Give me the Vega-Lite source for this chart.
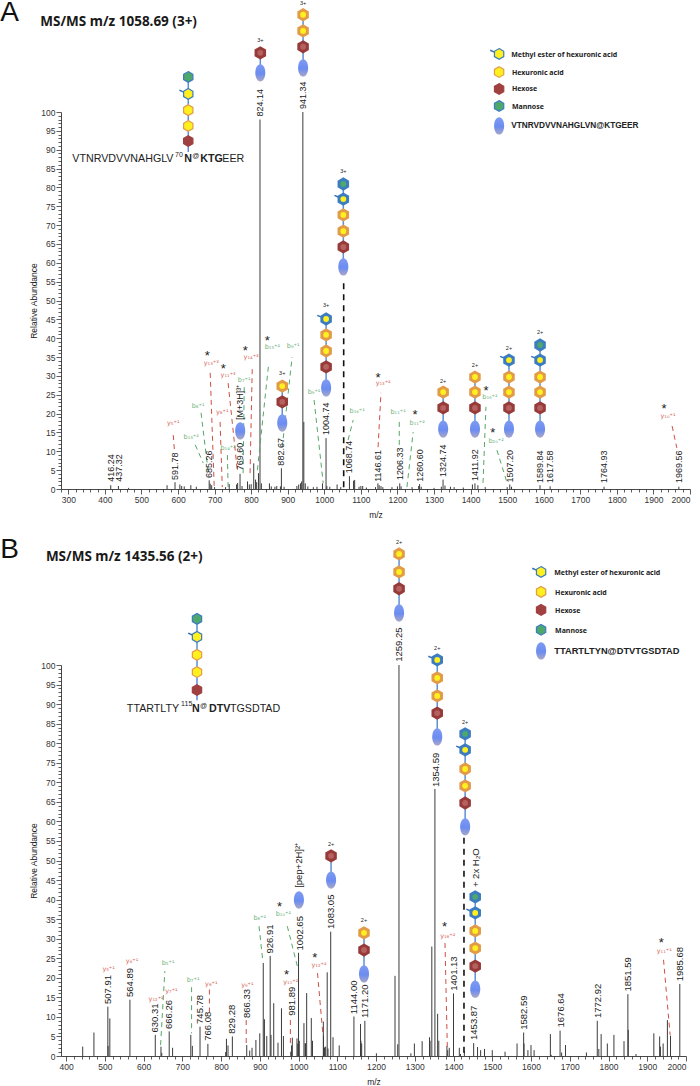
{"$schema":"https://vega.github.io/schema/vega-lite/v6.json","background":"white","padding":{"left":0,"top":-2,"right":0,"bottom":0},"bounds":"flush","spacing":176,"config":{"view":{"stroke":null},"axis":{"grid":false,"labelFont":"Liberation Sans","titleFont":"Liberation Sans","titleFontWeight":"normal","titleFontSize":8.5,"labelFontSize":8.5,"labelColor":"#333","titleColor":"#222","domainColor":"#333","tickColor":"#333","labelOverlap":false,"labelPadding":1,"tickWidth":0.8,"domainWidth":0.9}},"datasets":{"peaks_a":[{"mz":416,"ab":1},{"mz":437,"ab":0.8},{"mz":465,"ab":0.3},{"mz":570,"ab":1},{"mz":591.78,"ab":1.8},{"mz":605,"ab":1.2},{"mz":610,"ab":0.8},{"mz":617,"ab":0.7},{"mz":635,"ab":1},{"mz":650,"ab":0.6},{"mz":685.26,"ab":2.3},{"mz":688,"ab":1.4},{"mz":692,"ab":1},{"mz":700,"ab":0.5},{"mz":730,"ab":0.5},{"mz":740,"ab":1.3},{"mz":760,"ab":1.2},{"mz":763,"ab":1.6},{"mz":769.6,"ab":4},{"mz":775,"ab":0.8},{"mz":790,"ab":2},{"mz":795,"ab":1.2},{"mz":800,"ab":1.3},{"mz":807,"ab":6.8},{"mz":812,"ab":2.5},{"mz":815,"ab":1.8},{"mz":820,"ab":4.2},{"mz":824.14,"ab":98},{"mz":828,"ab":1.5},{"mz":850,"ab":1.5},{"mz":855,"ab":0.7},{"mz":865,"ab":0.6},{"mz":870,"ab":0.8},{"mz":880,"ab":0.7},{"mz":882.67,"ab":5.5},{"mz":890,"ab":0.6},{"mz":925,"ab":0.8},{"mz":930,"ab":1.2},{"mz":935,"ab":1.5},{"mz":938,"ab":2},{"mz":941.34,"ab":100},{"mz":944,"ab":17.8},{"mz":948,"ab":1.5},{"mz":955,"ab":0.7},{"mz":970,"ab":0.5},{"mz":980,"ab":0.6},{"mz":995,"ab":1.5},{"mz":1004.74,"ab":13.5},{"mz":1007,"ab":0.8},{"mz":1015,"ab":0.6},{"mz":1035,"ab":1.2},{"mz":1045,"ab":0.5},{"mz":1068.74,"ab":3.4},{"mz":1080,"ab":2.2},{"mz":1083,"ab":2.4},{"mz":1095,"ab":0.6},{"mz":1100,"ab":0.8},{"mz":1105,"ab":0.8},{"mz":1115,"ab":0.4},{"mz":1140,"ab":0.5},{"mz":1146.61,"ab":1.5},{"mz":1150,"ab":1},{"mz":1155,"ab":0.8},{"mz":1160,"ab":0.5},{"mz":1185,"ab":0.5},{"mz":1200,"ab":0.7},{"mz":1206.33,"ab":1.5},{"mz":1210,"ab":0.7},{"mz":1240,"ab":0.5},{"mz":1258,"ab":0.8},{"mz":1260.6,"ab":1.3},{"mz":1265,"ab":0.6},{"mz":1300,"ab":0.3},{"mz":1320,"ab":0.6},{"mz":1324.74,"ab":2.5},{"mz":1330,"ab":0.9},{"mz":1345,"ab":0.6},{"mz":1355,"ab":0.5},{"mz":1380,"ab":0.4},{"mz":1405,"ab":1.2},{"mz":1411.92,"ab":1.5},{"mz":1420,"ab":1},{"mz":1440,"ab":0.5},{"mz":1500,"ab":0.5},{"mz":1507.2,"ab":1.2},{"mz":1512,"ab":0.6},{"mz":1589.84,"ab":1},{"mz":1617.58,"ab":0.7},{"mz":1764.93,"ab":0.6},{"mz":1969.56,"ab":0.6}],"peaks_b":[{"mz":443,"ab":2.4},{"mz":472,"ab":6},{"mz":507.91,"ab":12.6},{"mz":508.5,"ab":2.6},{"mz":513,"ab":9.6},{"mz":564.89,"ab":14.4},{"mz":630.31,"ab":5.4},{"mz":645,"ab":2.4},{"mz":647,"ab":0.8},{"mz":666.26,"ab":6.3},{"mz":675,"ab":2.1},{"mz":722,"ab":5.4},{"mz":726,"ab":2.6},{"mz":745.78,"ab":7.5},{"mz":766.08,"ab":3.1},{"mz":812,"ab":1},{"mz":814,"ab":4.4},{"mz":818,"ab":2.7},{"mz":829.28,"ab":5},{"mz":866.33,"ab":2.8},{"mz":874,"ab":1.4},{"mz":880,"ab":2.1},{"mz":890,"ab":4.1},{"mz":900,"ab":5.8},{"mz":909,"ab":23.8},{"mz":912,"ab":9.4},{"mz":918,"ab":5.1},{"mz":926.91,"ab":25.6},{"mz":929,"ab":5.4},{"mz":936,"ab":13.5},{"mz":947,"ab":3.4},{"mz":956,"ab":12.2},{"mz":961,"ab":5.1},{"mz":980,"ab":1.1},{"mz":982,"ab":2.7},{"mz":984,"ab":4.7},{"mz":996,"ab":4.5},{"mz":998,"ab":3.2},{"mz":1000,"ab":26.4},{"mz":1002,"ab":3.9},{"mz":1014,"ab":8.4},{"mz":1017,"ab":3.3},{"mz":1018,"ab":3.2},{"mz":1021,"ab":16.1},{"mz":1033,"ab":9.7},{"mz":1036,"ab":3.9},{"mz":1064,"ab":8.8},{"mz":1064.5,"ab":5.2},{"mz":1067,"ab":2.2},{"mz":1070,"ab":2.4},{"mz":1074,"ab":21.4},{"mz":1076,"ab":1.9},{"mz":1083.05,"ab":31.8},{"mz":1089,"ab":4.8},{"mz":1105,"ab":2.7},{"mz":1143,"ab":10.1},{"mz":1160,"ab":8.2},{"mz":1161,"ab":3.9},{"mz":1163,"ab":3.2},{"mz":1171.2,"ab":9},{"mz":1201,"ab":0.7},{"mz":1249,"ab":20.5},{"mz":1256,"ab":3},{"mz":1259.25,"ab":100},{"mz":1290,"ab":0.7},{"mz":1299,"ab":3.2},{"mz":1319,"ab":3.8},{"mz":1338,"ab":4.8},{"mz":1339.5,"ab":3.9},{"mz":1344,"ab":28},{"mz":1352,"ab":68.3},{"mz":1359,"ab":10.8},{"mz":1362,"ab":3.9},{"mz":1383,"ab":2.6},{"mz":1385,"ab":1.5},{"mz":1389,"ab":2.1},{"mz":1400,"ab":16},{"mz":1415,"ab":2.1},{"mz":1418,"ab":0.5},{"mz":1428,"ab":1.2},{"mz":1452,"ab":3.3},{"mz":1462,"ab":2.3},{"mz":1470,"ab":1.5},{"mz":1480,"ab":1.8},{"mz":1500,"ab":1.5},{"mz":1533,"ab":1.1},{"mz":1564,"ab":3.2},{"mz":1581,"ab":6},{"mz":1582,"ab":3.2},{"mz":1592,"ab":1.5},{"mz":1600,"ab":2.8},{"mz":1608,"ab":1.5},{"mz":1650,"ab":5.6},{"mz":1652,"ab":0.3},{"mz":1675,"ab":6.5},{"mz":1679,"ab":0.9},{"mz":1689,"ab":2.8},{"mz":1743,"ab":0.9},{"mz":1771,"ab":9},{"mz":1775,"ab":1.8},{"mz":1781,"ab":5.6},{"mz":1797,"ab":3.2},{"mz":1814,"ab":5.4},{"mz":1840,"ab":3.8},{"mz":1850,"ab":15.8},{"mz":1851,"ab":6.7},{"mz":1871,"ab":0.5},{"mz":1917,"ab":5.8},{"mz":1932,"ab":5},{"mz":1934,"ab":2.4},{"mz":1941,"ab":3.2},{"mz":1952,"ab":9.2},{"mz":1960,"ab":5.2},{"mz":1984,"ab":18.4}],"labels_a":[{"mz":416.24,"ab":1.9,"t":"416.24"},{"mz":437.32,"ab":1.9,"t":"437.32"},{"mz":591.78,"ab":2.4,"t":"591.78"},{"mz":685.26,"ab":2.9,"t":"685.26"},{"mz":769.6,"ab":5,"t":"769.60"},{"mz":882.67,"ab":6.2,"t":"882.67"},{"mz":941.34,"ab":100.8,"t":"941.34"},{"mz":824.14,"ab":98.8,"t":"824.14"},{"mz":1004.74,"ab":14.3,"t":"1004.74"},{"mz":1068.74,"ab":4.2,"t":"1068.74"},{"mz":1146.61,"ab":1.9,"t":"1146.61"},{"mz":1206.33,"ab":2.4,"t":"1206.33"},{"mz":1260.6,"ab":1.9,"t":"1260.60"},{"mz":1324.74,"ab":3.2,"t":"1324.74"},{"mz":1411.92,"ab":2.1,"t":"1411.92"},{"mz":1507.2,"ab":1.7,"t":"1507.20"},{"mz":1589.84,"ab":1.6,"t":"1589.84"},{"mz":1617.58,"ab":1.6,"t":"1617.58"},{"mz":1764.93,"ab":1.6,"t":"1764.93"},{"mz":1969.56,"ab":1.6,"t":"1969.56"},{"mz":770,"ab":18.3,"t":"[M+3H]³⁺"}],"labels_b":[{"mz":507.91,"ab":13.3,"t":"507.91"},{"mz":564.89,"ab":15.1,"t":"564.89"},{"mz":630.31,"ab":6,"t":"630.31"},{"mz":666.26,"ab":6.9,"t":"666.26"},{"mz":745.78,"ab":8.2,"t":"745.78"},{"mz":766.08,"ab":3.9,"t":"766.08"},{"mz":829.28,"ab":5.7,"t":"829.28"},{"mz":866.33,"ab":9.7,"t":"866.33"},{"mz":926.91,"ab":26.2,"t":"926.91"},{"mz":981.89,"ab":10.3,"t":"981.89"},{"mz":1002.65,"ab":27,"t":"1002.65"},{"mz":1083.05,"ab":32.5,"t":"1083.05"},{"mz":1144,"ab":10.7,"t":"1144.00"},{"mz":1171.2,"ab":9.7,"t":"1171.20"},{"mz":1259.25,"ab":100.8,"t":"1259.25"},{"mz":1354.59,"ab":68.8,"t":"1354.59"},{"mz":1401.13,"ab":16.7,"t":"1401.13"},{"mz":1453.87,"ab":4.1,"t":"1453.87"},{"mz":1582.59,"ab":6.7,"t":"1582.59"},{"mz":1676.64,"ab":7.3,"t":"1676.64"},{"mz":1772.92,"ab":9.7,"t":"1772.92"},{"mz":1851.59,"ab":16.5,"t":"1851.59"},{"mz":1985.68,"ab":19.1,"t":"1985.68"},{"mz":1001,"ab":43,"t":"[pep+2H]²⁺"},{"mz":1458,"ab":43.2,"t":"+ 2x H₂O"}],"frag_a":[{"id":"a1","ion":"y","mz":587,"ab":14.3},{"id":"a1","ion":"y","mz":590,"ab":10.3},{"id":"a2","ion":"y","mz":688,"ab":30.8},{"id":"a2","ion":"y","mz":699,"ab":0.5},{"id":"a3","ion":"y","mz":737,"ab":28.1},{"id":"a3","ion":"y","mz":762,"ab":5},{"id":"a4","ion":"y","mz":715,"ab":17.8},{"id":"a4","ion":"y","mz":721,"ab":0.5},{"id":"a5","ion":"y","mz":803,"ab":32.1},{"id":"a5","ion":"y","mz":797,"ab":4.2},{"id":"a6","ion":"b","mz":663,"ab":20.2},{"id":"a6","ion":"b","mz":683,"ab":4.2},{"id":"a7","ion":"b","mz":647,"ab":11.7},{"id":"a7","ion":"b","mz":669,"ab":6.9},{"id":"a8","ion":"b","mz":735,"ab":9},{"id":"a8","ion":"b","mz":737,"ab":0.5},{"id":"a9","ion":"b","mz":781,"ab":27.1},{"id":"a9","ion":"b","mz":778,"ab":4.2},{"id":"a10","ion":"b","mz":847,"ab":32.4},{"id":"a10","ion":"b","mz":817,"ab":5},{"id":"a11","ion":"b","mz":912,"ab":35},{"id":"a11","ion":"b","mz":885,"ab":11.1},{"id":"a12","ion":"b","mz":972,"ab":23.6},{"id":"a12","ion":"b","mz":997,"ab":1.6},{"id":"a13","ion":"b","mz":1079,"ab":18.3},{"id":"a13","ion":"b","mz":1065,"ab":13},{"id":"a14","ion":"y","mz":1155,"ab":25.5},{"id":"a14","ion":"y","mz":1147,"ab":11.1},{"id":"a15","ion":"b","mz":1205,"ab":17.8},{"id":"a15","ion":"b","mz":1205,"ab":11.1},{"id":"a16","ion":"b","mz":1243,"ab":15.1},{"id":"a16","ion":"b","mz":1226,"ab":0.5},{"id":"a17","ion":"b","mz":1442,"ab":21.8},{"id":"a17","ion":"b","mz":1434,"ab":1.6},{"id":"a18","ion":"b","mz":1472,"ab":10.3},{"id":"a18","ion":"b","mz":1500,"ab":1.6},{"id":"a19","ion":"y","mz":1951,"ab":16.7},{"id":"a19","ion":"y","mz":1964,"ab":10.9}],"frag_b":[{"id":"b1","ion":"y","mz":770,"ab":17},{"id":"b1","ion":"y","mz":770,"ab":10.1},{"id":"b2","ion":"y","mz":865,"ab":9.2},{"id":"b2","ion":"y","mz":865,"ab":3.3},{"id":"b3","ion":"y","mz":979,"ab":9.2},{"id":"b3","ion":"y","mz":979,"ab":3.3},{"id":"b4","ion":"y","mz":1049,"ab":21.2},{"id":"b4","ion":"y","mz":1063,"ab":5.4},{"id":"b5","ion":"b","mz":655,"ab":21.7},{"id":"b5","ion":"b","mz":644,"ab":2.8},{"id":"b6","ion":"b","mz":724,"ab":17.6},{"id":"b6","ion":"b","mz":724,"ab":5.8},{"id":"b7","ion":"b","mz":898,"ab":33.2},{"id":"b7","ion":"b","mz":908,"ab":24.2},{"id":"b8","ion":"b","mz":971,"ab":33.2},{"id":"b8","ion":"b","mz":999.5,"ab":22},{"id":"b9","ion":"y","mz":1378,"ab":28.9},{"id":"b9","ion":"y","mz":1384,"ab":2.4},{"id":"b10","ion":"y","mz":1942,"ab":24.6},{"id":"b10","ion":"y","mz":1959,"ab":5.4}],"fraglabels_a":[{"ion":"y","mz":587,"ab":17.5,"t":"y₅⁺¹"},{"ion":"y","mz":691,"ab":33.4,"t":"y₁₃⁺³"},{"ion":"y","mz":737,"ab":30.2,"t":"y₁₁⁺³"},{"ion":"y","mz":721,"ab":20.4,"t":"y₈⁺¹"},{"ion":"y","mz":800,"ab":35,"t":"y₁₄⁺³"},{"ion":"b","mz":655,"ab":22,"t":"b₈⁺¹"},{"ion":"b","mz":636,"ab":13.8,"t":"b₁₃⁺²"},{"ion":"b","mz":737,"ab":10.9,"t":"b₁₄⁺²"},{"ion":"b","mz":781,"ab":28.9,"t":"b₇⁺¹"},{"ion":"b","mz":858,"ab":37.7,"t":"b₁₅⁺²"},{"ion":"b","mz":915,"ab":37.9,"t":"b₉⁺¹"},{"ion":"b","mz":972,"ab":25.7,"t":"b₉⁺¹"},{"ion":"b","mz":1090,"ab":20.7,"t":"b₁₆⁺¹"},{"ion":"y","mz":1161,"ab":28.1,"t":"y₁₃⁺²"},{"ion":"b","mz":1202,"ab":20.4,"t":"b₁₁⁺¹"},{"ion":"b","mz":1254,"ab":17.5,"t":"b₁₁⁺²"},{"ion":"b","mz":1453,"ab":24.4,"t":"b₁₉⁺²"},{"ion":"b","mz":1470,"ab":12.7,"t":"b₂₀⁺²"},{"ion":"y","mz":1940,"ab":19.4,"t":"y₁₀⁺¹"}],"fraglabels_b":[{"ion":"y","mz":510,"ab":22.3,"t":"y₅⁺¹"},{"ion":"y","mz":570.5,"ab":24.4,"t":"y₆⁺¹"},{"ion":"y","mz":632.5,"ab":14.6,"t":"y₁₂⁺²"},{"ion":"y","mz":672,"ab":16.5,"t":"y₇⁺¹"},{"ion":"y","mz":775,"ab":18.5,"t":"y₈⁺¹"},{"ion":"y","mz":868,"ab":18.2,"t":"y₉⁺¹"},{"ion":"y","mz":980,"ab":18.9,"t":"y₁₁⁺²"},{"ion":"y","mz":1053,"ab":23.4,"t":"y₁₂⁺²"},{"ion":"y","mz":1385,"ab":30.8,"t":"y₁₈⁺²"},{"ion":"y","mz":1944,"ab":26.8,"t":"y₁₁⁺¹"},{"ion":"b","mz":663.5,"ab":23.8,"t":"b₅⁺¹"},{"ion":"b","mz":728,"ab":19.5,"t":"b₇⁺¹"},{"ion":"b","mz":900,"ab":35.4,"t":"b₈⁺²"},{"ion":"b","mz":961,"ab":36.2,"t":"b₁₀⁺²"}],"stars_a":[{"mz":680,"ab":35.8,"t":"*"},{"mz":724,"ab":32.4,"t":"*"},{"mz":784,"ab":37.1,"t":"*"},{"mz":844,"ab":39.8,"t":"*"},{"mz":1147,"ab":30,"t":"*"},{"mz":1248,"ab":20.2,"t":"*"},{"mz":1442,"ab":26.5,"t":"*"},{"mz":1461,"ab":15.4,"t":"*"},{"mz":1929,"ab":21.8,"t":"*"}],"stars_b":[{"mz":969,"ab":21.1,"t":"*"},{"mz":1042,"ab":25.7,"t":"*"},{"mz":951,"ab":38.5,"t":"*"},{"mz":1377,"ab":33.6,"t":"*"},{"mz":1936,"ab":29.4,"t":"*"}],"charges_a":[{"mz":825,"ab":119.1,"t":"3+"},{"mz":942,"ab":128.9,"t":"3+"},{"mz":1052,"ab":84.4,"t":"3+"},{"mz":1005,"ab":48.8,"t":"3+"},{"mz":885,"ab":30.8,"t":"3+"},{"mz":1325,"ab":28.7,"t":"2+"},{"mz":1412,"ab":32.9,"t":"2+"},{"mz":1505,"ab":37.4,"t":"2+"},{"mz":1590,"ab":41.7,"t":"2+"}],"charges_b":[{"mz":1259.5,"ab":131.5,"t":"2+"},{"mz":1358,"ab":104.4,"t":"2+"},{"mz":1430,"ab":85.4,"t":"2+"},{"mz":1084,"ab":54.2,"t":"2+"},{"mz":1169,"ab":34.8,"t":"2+"}],"glyco_a":[{"c":"a0","style":"small","kind":"mannose","mz":628,"ab":109.3},{"c":"a0","style":"small","kind":"methyl","mz":628,"ab":104.8},{"c":"a0","style":"small","kind":"hexuronic","mz":628,"ab":100.5},{"c":"a0","style":"small","kind":"hexuronic","mz":628,"ab":96.3},{"c":"a0","style":"small","kind":"hexose","mz":628,"ab":92.3},{"c":"a0","style":"small","kind":"stub","mz":628,"ab":89.4},{"c":"a1","style":"big","kind":"hexose","mz":825,"ab":115.7},{"c":"a1","style":"big","kind":"peptide","mz":825,"ab":110.4},{"c":"a2","style":"big","kind":"hexuronic","mz":942,"ab":125.8},{"c":"a2","style":"big","kind":"hexuronic","mz":942,"ab":121.5},{"c":"a2","style":"big","kind":"hexose","mz":942,"ab":117.3},{"c":"a2","style":"big","kind":"peptide","mz":942,"ab":111.7},{"c":"a3","style":"big","kind":"mannose","mz":1052,"ab":80.9},{"c":"a3","style":"big","kind":"methyl","mz":1052,"ab":76.9},{"c":"a3","style":"big","kind":"hexuronic","mz":1052,"ab":72.7},{"c":"a3","style":"big","kind":"hexuronic","mz":1052,"ab":68.4},{"c":"a3","style":"big","kind":"hexose","mz":1052,"ab":64.2},{"c":"a3","style":"big","kind":"peptide","mz":1052,"ab":58.9},{"c":"a4","style":"big","kind":"methyl","mz":1005,"ab":45.1},{"c":"a4","style":"big","kind":"hexuronic","mz":1005,"ab":40.9},{"c":"a4","style":"big","kind":"hexuronic","mz":1005,"ab":36.6},{"c":"a4","style":"big","kind":"hexose","mz":1005,"ab":32.4},{"c":"a4","style":"big","kind":"peptide","mz":1005,"ab":26.8},{"c":"a5","style":"big","kind":"hexuronic","mz":885,"ab":27.3},{"c":"a5","style":"big","kind":"hexose","mz":885,"ab":23.1},{"c":"a5","style":"big","kind":"peptide","mz":885,"ab":17.5},{"c":"a6","style":"big","kind":"peptide","mz":770,"ab":15.4},{"c":"a7","style":"big","kind":"hexuronic","mz":1325,"ab":25.7},{"c":"a7","style":"big","kind":"hexose","mz":1325,"ab":21.5},{"c":"a7","style":"big","kind":"peptide","mz":1325,"ab":15.9},{"c":"a8","style":"big","kind":"hexuronic","mz":1412,"ab":29.7},{"c":"a8","style":"big","kind":"hexuronic","mz":1412,"ab":25.7},{"c":"a8","style":"big","kind":"hexose","mz":1412,"ab":21.5},{"c":"a8","style":"big","kind":"peptide","mz":1412,"ab":15.9},{"c":"a9","style":"big","kind":"methyl","mz":1505,"ab":34.2},{"c":"a9","style":"big","kind":"hexuronic","mz":1505,"ab":29.7},{"c":"a9","style":"big","kind":"hexuronic","mz":1505,"ab":25.7},{"c":"a9","style":"big","kind":"hexose","mz":1505,"ab":21.5},{"c":"a9","style":"big","kind":"peptide","mz":1505,"ab":15.9},{"c":"a10","style":"big","kind":"mannose","mz":1590,"ab":38.2},{"c":"a10","style":"big","kind":"methyl","mz":1590,"ab":34.2},{"c":"a10","style":"big","kind":"hexuronic","mz":1590,"ab":29.7},{"c":"a10","style":"big","kind":"hexuronic","mz":1590,"ab":25.7},{"c":"a10","style":"big","kind":"hexose","mz":1590,"ab":21.5},{"c":"a10","style":"big","kind":"peptide","mz":1590,"ab":15.9},{"c":"l1","style":"legend","kind":"methyl","mz":1478,"ab":115.4},{"c":"l2","style":"legend","kind":"hexuronic","mz":1478,"ab":110.6},{"c":"l3","style":"legend","kind":"hexose","mz":1478,"ab":106.1},{"c":"l4","style":"legend","kind":"mannose","mz":1478,"ab":101.6},{"c":"l5","style":"legend","kind":"peptide","mz":1478,"ab":96.3}],"glyco_b":[{"c":"b0","style":"small","kind":"mannose","mz":738,"ab":111.8},{"c":"b0","style":"small","kind":"methyl","mz":738,"ab":107.2},{"c":"b0","style":"small","kind":"hexuronic","mz":738,"ab":102.6},{"c":"b0","style":"small","kind":"hexuronic","mz":738,"ab":98.2},{"c":"b0","style":"small","kind":"hexose","mz":738,"ab":93.6},{"c":"b0","style":"small","kind":"stub","mz":738,"ab":91},{"c":"b1","style":"big","kind":"hexuronic","mz":1259.5,"ab":128.4},{"c":"b1","style":"big","kind":"hexuronic","mz":1259.5,"ab":123.8},{"c":"b1","style":"big","kind":"hexose","mz":1259.5,"ab":119.5},{"c":"b1","style":"big","kind":"peptide","mz":1259.5,"ab":113.3},{"c":"b2","style":"big","kind":"methyl","mz":1358,"ab":101.3},{"c":"b2","style":"big","kind":"hexuronic","mz":1358,"ab":96.7},{"c":"b2","style":"big","kind":"hexuronic","mz":1358,"ab":92.1},{"c":"b2","style":"big","kind":"hexose","mz":1358,"ab":87.7},{"c":"b2","style":"big","kind":"peptide","mz":1358,"ab":81.6},{"c":"b3","style":"big","kind":"mannose","mz":1430,"ab":82.4},{"c":"b3","style":"big","kind":"methyl","mz":1430,"ab":78.3},{"c":"b3","style":"big","kind":"hexuronic","mz":1430,"ab":73.4},{"c":"b3","style":"big","kind":"hexuronic","mz":1430,"ab":69.1},{"c":"b3","style":"big","kind":"hexose","mz":1430,"ab":64.7},{"c":"b3","style":"big","kind":"peptide","mz":1430,"ab":58.6},{"c":"b4","style":"big","kind":"mannose","mz":1456,"ab":40.7},{"c":"b4","style":"big","kind":"methyl","mz":1456,"ab":36.6},{"c":"b4","style":"big","kind":"hexuronic","mz":1456,"ab":32},{"c":"b4","style":"big","kind":"hexuronic","mz":1456,"ab":27.6},{"c":"b4","style":"big","kind":"hexose","mz":1456,"ab":23},{"c":"b4","style":"big","kind":"peptide","mz":1456,"ab":17.1},{"c":"b5","style":"big","kind":"peptide","mz":1001,"ab":39.9},{"c":"b6","style":"big","kind":"hexose","mz":1084,"ab":51.2},{"c":"b6","style":"big","kind":"peptide","mz":1084,"ab":45},{"c":"b7","style":"big","kind":"hexuronic","mz":1169,"ab":31.5},{"c":"b7","style":"big","kind":"hexose","mz":1169,"ab":27.1},{"c":"b7","style":"big","kind":"peptide","mz":1169,"ab":21},{"c":"m1","style":"legend","kind":"methyl","mz":1626,"ab":123.8},{"c":"m2","style":"legend","kind":"hexuronic","mz":1626,"ab":118.7},{"c":"m3","style":"legend","kind":"hexose","mz":1626,"ab":114.1},{"c":"m4","style":"legend","kind":"mannose","mz":1626,"ab":109},{"c":"m5","style":"legend","kind":"peptide","mz":1626,"ab":103.6}],"legend_a":[{"mz":1511,"ab":115.1,"t":"Methyl ester of hexuronic acid"},{"mz":1513,"ab":110.4,"t":"Hexuronic acid"},{"mz":1513,"ab":106.1,"t":"Hexose"},{"mz":1513,"ab":101.3,"t":"Mannose"}],"legend_b":[{"mz":1660,"ab":123.6,"t":"Methyl ester of hexuronic acid"},{"mz":1662,"ab":118.4,"t":"Hexuronic acid"},{"mz":1662,"ab":113.8,"t":"Hexose"},{"mz":1662,"ab":108.7,"t":"Mannose"}],"legendpep_a":[{"mz":1511,"ab":96.3,"t":"VTNRVDVVNAHGLVN@KTGEER"}],"legendpep_b":[{"mz":1660,"ab":103.6,"t":"TTARTLTYN@DTVTGSDTAD"}],"seq_a":[{"mz":311,"ab":87.5,"t":"VTNRVDVVNAHGLV"},{"mz":721,"ab":87.5,"t":"EER"}],"seqbold_a":[{"mz":617,"ab":87.5,"t":"N"},{"mz":661,"ab":87.5,"t":"KTG"}],"seqsup_a":[{"mz":592,"ab":88.6,"t":"70"},{"mz":639,"ab":88.3,"t":"@"}],"seq_b":[{"mz":557,"ab":88.8,"t":"TTARTLTY"},{"mz":823,"ab":88.8,"t":"TGSDTAD"}],"seqbold_b":[{"mz":725,"ab":88.8,"t":"N"},{"mz":769,"ab":88.8,"t":"DTV"}],"seqsup_b":[{"mz":697,"ab":89.9,"t":"115"},{"mz":746,"ab":89.6,"t":"@"}],"title_a":[{"mz":223.5,"ab":123.9,"t":"MS/MS m/z 1058.69 (3+)"}],"title_b":[{"mz":348,"ab":127.6,"t":"MS/MS m/z 1435.56 (2+)"}],"letter_a":[{"mz":114,"ab":126.3,"t":"A"}],"letter_b":[{"mz":230,"ab":129.5,"t":"B"}],"dash_a":[{"mz":1053,"ab":54.6}],"dash_b":[{"mz":1427,"ab":55.8}]},"vconcat":[{"width":629,"height":377,"resolve":{"scale":{"color":"independent","fill":"independent","stroke":"independent"}},"encoding":{"x":{"field":"mz","type":"quantitative","scale":{"domain":[280,2000],"nice":false,"zero":false},"axis":{"title":"m/z","titlePadding":7,"values":[280,300,320,340,360,380,400,420,440,460,480,500,520,540,560,580,600,620,640,660,680,700,720,740,760,780,800,820,840,860,880,900,920,940,960,980,1000,1020,1040,1060,1080,1100,1120,1140,1160,1180,1200,1220,1240,1260,1280,1300,1320,1340,1360,1380,1400,1420,1440,1460,1480,1500,1520,1540,1560,1580,1600,1620,1640,1660,1680,1700,1720,1740,1760,1780,1800,1820,1840,1860,1880,1900,1920,1940,1960,1980,2000],"labelExpr":"datum.value % 100 === 0 ? format(datum.value,'d') : ''","tickSize":{"condition":{"test":"datum.value % 100 === 0","value":5},"value":3}}},"y":{"field":"ab","type":"quantitative","scale":{"domain":[0,100],"nice":false},"axis":{"title":"Relative Abundance","titlePadding":2,"values":[0,1,2,3,4,5,6,7,8,9,10,11,12,13,14,15,16,17,18,19,20,21,22,23,24,25,26,27,28,29,30,31,32,33,34,35,36,37,38,39,40,41,42,43,44,45,46,47,48,49,50,51,52,53,54,55,56,57,58,59,60,61,62,63,64,65,66,67,68,69,70,71,72,73,74,75,76,77,78,79,80,81,82,83,84,85,86,87,88,89,90,91,92,93,94,95,96,97,98,99,100],"labelExpr":"datum.value % 5 === 0 ? format(datum.value,'d') : ''","tickSize":{"condition":{"test":"datum.value % 5 === 0","value":5},"value":3}}}},"layer":[{"data":{"name":"peaks_a"},"mark":{"type":"rule","color":"#3c3c3c","strokeWidth":1},"encoding":{"y2":{"datum":0}}},{"data":{"name":"dash_a"},"mark":{"type":"rule","color":"#111","strokeWidth":1.6,"strokeDash":[6,5]},"encoding":{"y2":{"datum":0}}},{"data":{"name":"frag_a"},"mark":{"type":"line","strokeWidth":1,"strokeDash":[5,4]},"encoding":{"detail":{"field":"id"},"color":{"field":"ion","type":"nominal","legend":null,"scale":{"domain":["y","b"],"range":["#cf4f45","#55a866"]}}}},{"data":{"name":"fraglabels_a"},"mark":{"type":"text","font":"DejaVu Sans","fontSize":6.5,"opacity":0.85},"encoding":{"text":{"field":"t"},"color":{"field":"ion","type":"nominal","legend":null,"scale":{"domain":["y","b"],"range":["#cf4f45","#55a866"]}}}},{"data":{"name":"stars_a"},"mark":{"type":"text","font":"Liberation Sans","fontSize":13,"dy":2,"color":"#222"},"encoding":{"text":{"field":"t"}}},{"data":{"name":"labels_a"},"mark":{"type":"text","font":"Liberation Sans","fontSize":9,"angle":270,"align":"left","baseline":"middle","color":"#222"},"encoding":{"text":{"field":"t"}}},{"data":{"name":"charges_a"},"mark":{"type":"text","font":"Liberation Sans","fontSize":5.5,"color":"#222"},"encoding":{"text":{"field":"t"}}},{"data":{"name":"glyco_a"},"transform":[{"filter":"datum.style !== 'legend'"}],"mark":{"type":"line","color":"#5f8fd6","strokeWidth":1.5},"encoding":{"detail":{"field":"c"},"order":{"field":"ab","type":"quantitative"}}},{"data":{"name":"glyco_a"},"transform":[{"filter":"datum.kind === 'methyl'"}],"mark":{"type":"point","shape":"M-1.45,-0.6L-0.75,-0.3","filled":false,"color":"#2f6fb5","strokeWidth":1.4,"size":150,"opacity":1}},{"data":{"name":"glyco_a"},"transform":[{"filter":"datum.style === 'big' && datum.kind !== 'peptide'"}],"mark":{"type":"point","shape":"M0,-1L0.866,-0.5L0.866,0.5L0,1L-0.866,0.5L-0.866,-0.5Z","filled":true,"size":177,"opacity":1},"encoding":{"color":{"field":"kind","type":"nominal","legend":null,"scale":{"domain":["hexose","hexuronic","methyl","mannose"],"range":["#973a3a","#e29b48","#3c7cc0","#3c7cc0"]}}}},{"data":{"name":"glyco_a"},"transform":[{"filter":"datum.style === 'big' && datum.kind !== 'peptide'"}],"mark":{"type":"point","shape":"circle","filled":true,"size":34,"opacity":1},"encoding":{"fill":{"field":"kind","type":"nominal","legend":null,"scale":{"domain":["hexose","hexuronic","methyl","mannose"],"range":["#b5615f","#fff01e","#fff01e","#4ea76b"]}}}},{"data":{"name":"glyco_a"},"transform":[{"filter":"datum.style !== 'big' && datum.kind !== 'peptide' && datum.kind !== 'stub'"}],"mark":{"type":"point","shape":"M0,-1L0.866,-0.5L0.866,0.5L0,1L-0.866,0.5L-0.866,-0.5Z","filled":true,"size":115,"strokeWidth":1.2,"opacity":1},"encoding":{"fill":{"field":"kind","type":"nominal","legend":null,"scale":{"domain":["hexose","hexuronic","methyl","mannose"],"range":["#a04040","#fff01e","#fff01e","#4ea76b"]}},"stroke":{"field":"kind","type":"nominal","legend":null,"scale":{"domain":["hexose","hexuronic","methyl","mannose"],"range":["#a04040","#e29b48","#3c7cc0","#3c7cc0"]}}}},{"data":{"name":"glyco_a"},"transform":[{"filter":"datum.kind === 'peptide'"}],"mark":{"type":"point","shape":"M0,-1C0.34,-1,0.58,-0.55,0.58,0C0.58,0.55,0.34,1,0,1C-0.34,1,-0.58,0.55,-0.58,0C-0.58,-0.55,-0.34,-1,0,-1Z","filled":true,"size":300,"opacity":1,"color":{"gradient":"linear","x1":0.5,"y1":0,"x2":0.5,"y2":1,"stops":[{"offset":0,"color":"#7f9bf2"},{"offset":0.55,"color":"#6b8cf0"},{"offset":1,"color":"#aaa8c8"}]}}},{"data":{"name":"legend_a"},"mark":{"type":"text","font":"Noto Sans","fontWeight":"bold","fontSize":7,"align":"left","color":"#222"},"encoding":{"text":{"field":"t"}}},{"data":{"name":"legendpep_a"},"mark":{"type":"text","font":"Liberation Sans","fontWeight":"bold","fontSize":8.25,"align":"left","color":"#222"},"encoding":{"text":{"field":"t"}}},{"data":{"name":"seq_a"},"mark":{"type":"text","font":"Liberation Sans","fontSize":10.7,"align":"left","color":"#222"},"encoding":{"text":{"field":"t"}}},{"data":{"name":"seqbold_a"},"mark":{"type":"text","font":"Liberation Sans","fontWeight":"bold","fontSize":10.7,"align":"left","color":"#222"},"encoding":{"text":{"field":"t"}}},{"data":{"name":"seqsup_a"},"mark":{"type":"text","font":"Liberation Sans","fontSize":7,"align":"left","color":"#222"},"encoding":{"text":{"field":"t"}}},{"data":{"name":"title_a"},"mark":{"type":"text","font":"Noto Sans","fontWeight":"bold","fontSize":13.5,"align":"left","color":"#1a1a1a"},"encoding":{"text":{"field":"t"}}},{"data":{"name":"letter_a"},"mark":{"type":"text","font":"Liberation Sans","fontSize":28,"align":"left","color":"#111"},"encoding":{"text":{"field":"t"}}}]},{"width":625,"height":391,"resolve":{"scale":{"color":"independent","fill":"independent","stroke":"independent"}},"encoding":{"x":{"field":"mz","type":"quantitative","scale":{"domain":[387,2000],"nice":false,"zero":false},"axis":{"title":"m/z","titlePadding":7,"values":[400,420,440,460,480,500,520,540,560,580,600,620,640,660,680,700,720,740,760,780,800,820,840,860,880,900,920,940,960,980,1000,1020,1040,1060,1080,1100,1120,1140,1160,1180,1200,1220,1240,1260,1280,1300,1320,1340,1360,1380,1400,1420,1440,1460,1480,1500,1520,1540,1560,1580,1600,1620,1640,1660,1680,1700,1720,1740,1760,1780,1800,1820,1840,1860,1880,1900,1920,1940,1960,1980,2000],"labelExpr":"datum.value % 100 === 0 ? format(datum.value,'d') : ''","tickSize":{"condition":{"test":"datum.value % 100 === 0","value":5},"value":3}}},"y":{"field":"ab","type":"quantitative","scale":{"domain":[0,100],"nice":false},"axis":{"title":"Relative Abundance","titlePadding":2,"values":[0,1,2,3,4,5,6,7,8,9,10,11,12,13,14,15,16,17,18,19,20,21,22,23,24,25,26,27,28,29,30,31,32,33,34,35,36,37,38,39,40,41,42,43,44,45,46,47,48,49,50,51,52,53,54,55,56,57,58,59,60,61,62,63,64,65,66,67,68,69,70,71,72,73,74,75,76,77,78,79,80,81,82,83,84,85,86,87,88,89,90,91,92,93,94,95,96,97,98,99,100],"labelExpr":"datum.value % 5 === 0 ? format(datum.value,'d') : ''","tickSize":{"condition":{"test":"datum.value % 5 === 0","value":5},"value":3}}}},"layer":[{"data":{"name":"peaks_b"},"mark":{"type":"rule","color":"#3c3c3c","strokeWidth":1},"encoding":{"y2":{"datum":0}}},{"data":{"name":"dash_b"},"mark":{"type":"rule","color":"#111","strokeWidth":1.6,"strokeDash":[6,5]},"encoding":{"y2":{"datum":0}}},{"data":{"name":"frag_b"},"mark":{"type":"line","strokeWidth":1,"strokeDash":[5,4]},"encoding":{"detail":{"field":"id"},"color":{"field":"ion","type":"nominal","legend":null,"scale":{"domain":["y","b"],"range":["#cf4f45","#55a866"]}}}},{"data":{"name":"fraglabels_b"},"mark":{"type":"text","font":"DejaVu Sans","fontSize":6.5,"opacity":0.85},"encoding":{"text":{"field":"t"},"color":{"field":"ion","type":"nominal","legend":null,"scale":{"domain":["y","b"],"range":["#cf4f45","#55a866"]}}}},{"data":{"name":"stars_b"},"mark":{"type":"text","font":"Liberation Sans","fontSize":13,"dy":2,"color":"#222"},"encoding":{"text":{"field":"t"}}},{"data":{"name":"labels_b"},"mark":{"type":"text","font":"Liberation Sans","fontSize":9.5,"angle":270,"align":"left","baseline":"middle","color":"#222"},"encoding":{"text":{"field":"t"}}},{"data":{"name":"charges_b"},"mark":{"type":"text","font":"Liberation Sans","fontSize":5.5,"color":"#222"},"encoding":{"text":{"field":"t"}}},{"data":{"name":"glyco_b"},"transform":[{"filter":"datum.style !== 'legend'"}],"mark":{"type":"line","color":"#5f8fd6","strokeWidth":1.5},"encoding":{"detail":{"field":"c"},"order":{"field":"ab","type":"quantitative"}}},{"data":{"name":"glyco_b"},"transform":[{"filter":"datum.kind === 'methyl'"}],"mark":{"type":"point","shape":"M-1.45,-0.6L-0.75,-0.3","filled":false,"color":"#2f6fb5","strokeWidth":1.4,"size":150,"opacity":1}},{"data":{"name":"glyco_b"},"transform":[{"filter":"datum.style === 'big' && datum.kind !== 'peptide'"}],"mark":{"type":"point","shape":"M0,-1L0.866,-0.5L0.866,0.5L0,1L-0.866,0.5L-0.866,-0.5Z","filled":true,"size":177,"opacity":1},"encoding":{"color":{"field":"kind","type":"nominal","legend":null,"scale":{"domain":["hexose","hexuronic","methyl","mannose"],"range":["#973a3a","#e29b48","#3c7cc0","#3c7cc0"]}}}},{"data":{"name":"glyco_b"},"transform":[{"filter":"datum.style === 'big' && datum.kind !== 'peptide'"}],"mark":{"type":"point","shape":"circle","filled":true,"size":34,"opacity":1},"encoding":{"fill":{"field":"kind","type":"nominal","legend":null,"scale":{"domain":["hexose","hexuronic","methyl","mannose"],"range":["#b5615f","#fff01e","#fff01e","#4ea76b"]}}}},{"data":{"name":"glyco_b"},"transform":[{"filter":"datum.style !== 'big' && datum.kind !== 'peptide' && datum.kind !== 'stub'"}],"mark":{"type":"point","shape":"M0,-1L0.866,-0.5L0.866,0.5L0,1L-0.866,0.5L-0.866,-0.5Z","filled":true,"size":115,"strokeWidth":1.2,"opacity":1},"encoding":{"fill":{"field":"kind","type":"nominal","legend":null,"scale":{"domain":["hexose","hexuronic","methyl","mannose"],"range":["#a04040","#fff01e","#fff01e","#4ea76b"]}},"stroke":{"field":"kind","type":"nominal","legend":null,"scale":{"domain":["hexose","hexuronic","methyl","mannose"],"range":["#a04040","#e29b48","#3c7cc0","#3c7cc0"]}}}},{"data":{"name":"glyco_b"},"transform":[{"filter":"datum.kind === 'peptide'"}],"mark":{"type":"point","shape":"M0,-1C0.34,-1,0.58,-0.55,0.58,0C0.58,0.55,0.34,1,0,1C-0.34,1,-0.58,0.55,-0.58,0C-0.58,-0.55,-0.34,-1,0,-1Z","filled":true,"size":300,"opacity":1,"color":{"gradient":"linear","x1":0.5,"y1":0,"x2":0.5,"y2":1,"stops":[{"offset":0,"color":"#7f9bf2"},{"offset":0.55,"color":"#6b8cf0"},{"offset":1,"color":"#aaa8c8"}]}}},{"data":{"name":"legend_b"},"mark":{"type":"text","font":"Noto Sans","fontWeight":"bold","fontSize":7,"align":"left","color":"#222"},"encoding":{"text":{"field":"t"}}},{"data":{"name":"legendpep_b"},"mark":{"type":"text","font":"Liberation Sans","fontWeight":"bold","fontSize":9.3,"align":"left","color":"#222"},"encoding":{"text":{"field":"t"}}},{"data":{"name":"seq_b"},"mark":{"type":"text","font":"Liberation Sans","fontSize":10.7,"align":"left","color":"#222"},"encoding":{"text":{"field":"t"}}},{"data":{"name":"seqbold_b"},"mark":{"type":"text","font":"Liberation Sans","fontWeight":"bold","fontSize":10.7,"align":"left","color":"#222"},"encoding":{"text":{"field":"t"}}},{"data":{"name":"seqsup_b"},"mark":{"type":"text","font":"Liberation Sans","fontSize":7,"align":"left","color":"#222"},"encoding":{"text":{"field":"t"}}},{"data":{"name":"title_b"},"mark":{"type":"text","font":"Noto Sans","fontWeight":"bold","fontSize":13.5,"align":"left","color":"#1a1a1a"},"encoding":{"text":{"field":"t"}}},{"data":{"name":"letter_b"},"mark":{"type":"text","font":"Liberation Sans","fontSize":28,"align":"left","color":"#111"},"encoding":{"text":{"field":"t"}}}]}]}
